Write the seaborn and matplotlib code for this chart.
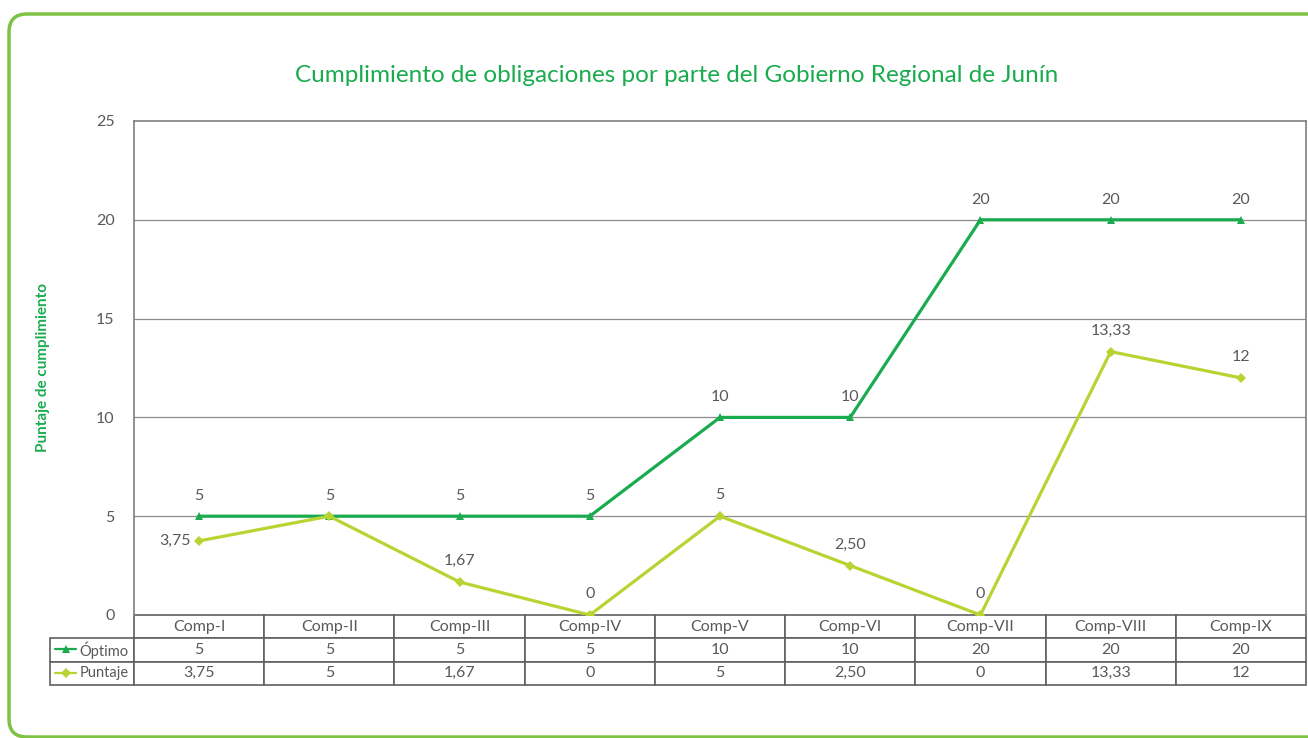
import matplotlib
matplotlib.use("Agg")
import matplotlib.pyplot as plt
import seaborn as sns
import pandas as pd
from matplotlib.patches import FancyBboxPatch
from matplotlib.lines import Line2D

categories = ["Comp-I", "Comp-II", "Comp-III", "Comp-IV", "Comp-V",
              "Comp-VI", "Comp-VII", "Comp-VIII", "Comp-IX"]
optimo = [5, 5, 5, 5, 10, 10, 20, 20, 20]
puntaje = [3.75, 5, 1.67, 0, 5, 2.50, 0, 13.33, 12]
optimo_labels = ["5", "5", "5", "5", "10", "10", "20", "20", "20"]
puntaje_labels = ["3,75", "5", "1,67", "0", "5", "2,50", "0", "13,33", "12"]
yticks = [0, 5, 10, 15, 20, 25]

title = "Cumplimiento de obligaciones por parte del Gobierno Regional de Junín"
ylabel = "Puntaje de cumplimiento"

GREEN = "#1aab4f"
LIME = "#b8d432"
FRAME = "#7dc242"
TXT = "#595959"
GRID = "#8c8c8c"

sns.set_theme(style="white")
plt.rcParams["font.family"] = ["Lato", "DejaVu Sans"]

df = pd.DataFrame({"x": list(range(len(categories))) * 2,
                   "valor": optimo + puntaje,
                   "serie": ["Óptimo"] * len(categories) + ["Puntaje"] * len(categories)})

W, H = 1308, 738
AX_L, AX_R, AX_T, AX_B = 134, 1306, 121, 615
fig = plt.figure(figsize=(W / 100, H / 100), dpi=100)
ax = fig.add_axes([AX_L / W, 1 - AX_B / H, (AX_R - AX_L) / W, (AX_B - AX_T) / H])

sns.lineplot(data=df, x="x", y="valor", hue="serie", style="serie",
             palette={"Óptimo": GREEN, "Puntaje": LIME},
             markers={"Óptimo": "^", "Puntaje": "D"}, dashes=False,
             linewidth=2.3, markersize=5.5, markeredgewidth=0,
             legend=False, ax=ax)
for ln in ax.get_lines():
    if ln.get_marker() == "D":
        ln.set_markersize(5)

ax.set_xlim(-0.5, len(categories) - 0.5)
ax.set_ylim(0, 25)
ax.set_yticks(yticks)
ax.set_yticklabels([str(t) for t in yticks], color=TXT, fontsize=11.5)
ax.tick_params(axis="y", length=0, pad=14)
ax.set_xticks([])
ax.set_xlabel("")
ax.set_ylabel(ylabel, color=GREEN, fontsize=11, fontweight="bold")
ax.yaxis.set_label_coords((50 - AX_L) / (AX_R - AX_L), 0.5)
for y in yticks[1:-1]:
    ax.axhline(y, color=GRID, lw=0.9, zorder=0)
for s in ax.spines.values():
    s.set_color("#7f7f7f")
    s.set_linewidth(1.2)
ax.spines["bottom"].set_visible(False)

# data labels
for i, (v, lab) in enumerate(zip(optimo, optimo_labels)):
    ax.annotate(lab, (i, v), xytext=(0, 14.5), textcoords="offset points",
                ha="center", va="center", color=TXT, fontsize=11.5)
for i, (v, lab) in enumerate(zip(puntaje, puntaje_labels)):
    if i == 0:
        ax.annotate(lab, (i, v), xytext=(-6, 0), textcoords="offset points",
                    ha="right", va="center", color=TXT, fontsize=11.5)
    elif i == 1:
        continue
    else:
        ax.annotate(lab, (i, v), xytext=(0, 15), textcoords="offset points",
                    ha="center", va="center", color=TXT, fontsize=11.5)

fig.text(677 / W, 1 - 76 / H, title, ha="center", va="center",
         color=GREEN, fontsize=17.5)

# data table
span = AX_R - AX_L
label_w = (AX_L - 50) / span
col_w = 1 / len(categories)
cell_text = [["Óptimo"] + optimo_labels, ["Puntaje"] + puntaje_labels]
tbl = ax.table(cellText=cell_text, colLabels=[""] + categories,
               colWidths=[label_w] + [col_w] * len(categories),
               cellLoc="center",
               bbox=[-label_w, -(685 - AX_B) / (AX_B - AX_T), 1 + label_w,
                     (685 - AX_B) / (AX_B - AX_T)])
tbl.auto_set_font_size(False)
tbl.set_fontsize(11.5)
for (r, c), cell in tbl.get_celld().items():
    cell.set_edgecolor("#606060")
    cell.set_linewidth(1.2)
    cell.get_text().set_color(TXT)
    if r == 0 and c == 0:
        cell.visible_edges = ""
    if r > 0 and c == 0:
        cell.get_text().set_ha("right")
        cell.get_text().set_fontsize(10.5)
        cell._loc = "right"
        cell.PAD = 0.06

# legend keys in row label cells
key_x = [(55 - AX_L) / span, (76 - AX_L) / span]
for yy, col, mk, ms in [((AX_B - 649) / (AX_B - AX_T), GREEN, "^", 5.5),
                        ((AX_B - 673) / (AX_B - AX_T), LIME, "D", 5)]:
    ax.add_line(Line2D(key_x, [yy, yy], color=col, lw=1.6,
                       transform=ax.transAxes, clip_on=False))
    ax.add_line(Line2D([sum(key_x) / 2], [yy], color=col, marker=mk,
                       markersize=ms, markeredgewidth=0,
                       transform=ax.transAxes, clip_on=False))

# outer frame
frame = FancyBboxPatch((9, 1), 1400, 723, boxstyle="round,pad=0,rounding_size=18",
                       transform=None, fill=False, edgecolor=FRAME, lw=2.5)
fig.patches.append(frame)

fig.savefig("out.png", dpi=100)
